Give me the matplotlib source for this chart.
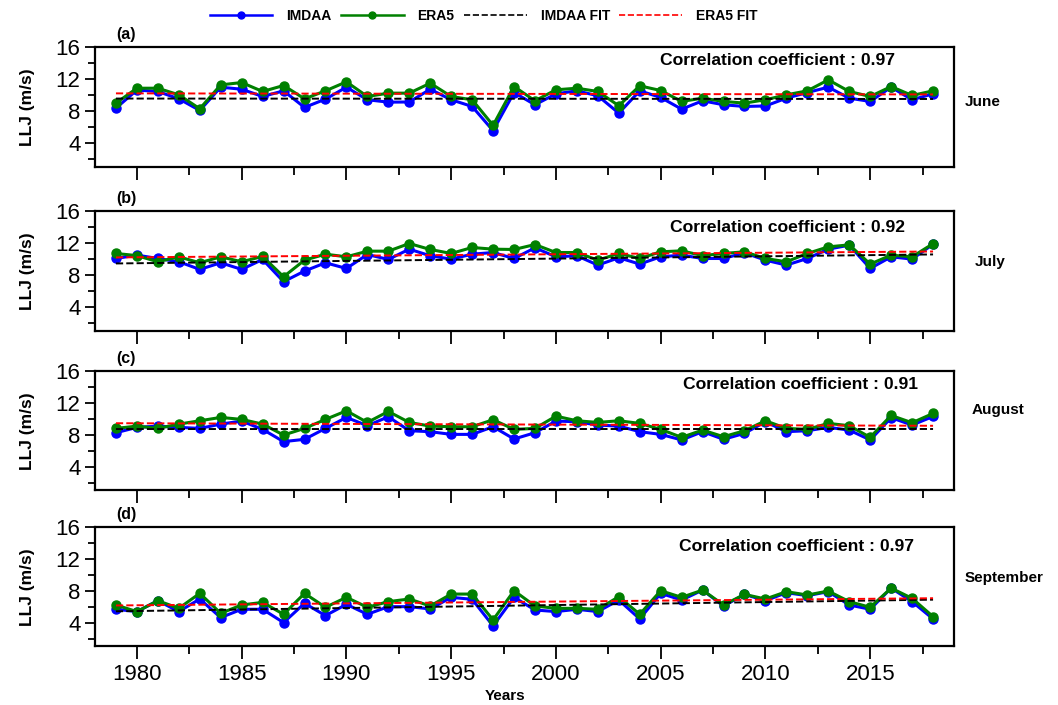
import numpy as np
import matplotlib.pyplot as plt
from matplotlib.ticker import MultipleLocator
from matplotlib.lines import Line2D

plt.rcParams['font.family'] = ['Liberation Sans', 'DejaVu Sans']

years = np.arange(1979, 2019)

# LLJ speed (m/s)
june_imdaa = [8.33, 10.6, 10.42, 9.5, 8.04, 10.96, 10.7, 9.79, 10.5, 8.42,
              9.46, 10.96, 9.38, 9.08, 9.1, 10.7, 9.38, 8.54, 5.5, 10.29,
              8.75, 10.13, 10.5, 9.88, 7.7, 10.5, 9.67, 8.2, 9.25, 8.75,
              8.54, 8.6, 9.58, 10.29, 10.96, 9.58, 9.17, 10.96, 9.38, 10.13]
june_era5 = [8.96, 10.83, 10.83, 10.0, 8.25, 11.25, 11.54, 10.42, 11.17, 9.5,
             10.5, 11.63, 9.79, 10.21, 10.21, 11.46, 9.79, 9.38, 6.17, 11.04,
             9.25, 10.63, 10.83, 10.42, 8.63, 11.13, 10.54, 9.17, 9.58, 9.17,
             8.96, 9.38, 10.0, 10.5, 11.88, 10.42, 9.79, 11.04, 9.92, 10.5]

july_imdaa = [10.04, 10.46, 10.04, 9.63, 8.67, 9.5, 8.67, 9.92, 7.13, 8.46,
              9.5, 8.79, 10.54, 9.92, 11.21, 10.38, 9.96, 10.58, 10.79, 10.04,
              11.38, 10.25, 10.38, 9.21, 10.13, 9.34, 10.25, 10.46, 10.04, 10.04,
              10.75, 9.83, 9.21, 10.04, 11.21, 11.71, 8.79, 10.25, 9.96, 11.83]
july_era5 = [10.67, 10.4, 9.63, 10.25, 9.5, 10.25, 9.63, 10.3, 7.75, 9.83,
             10.58, 10.25, 10.96, 10.96, 11.92, 11.17, 10.67, 11.42, 11.21, 11.17,
             11.79, 10.79, 10.79, 9.83, 10.67, 10.04, 10.88, 11.0, 10.4, 10.67,
             10.88, 10.04, 9.63, 10.67, 11.5, 11.75, 9.34, 10.46, 10.25, 11.9]

aug_imdaa = [8.25, 8.92, 9.08, 8.92, 8.79, 9.33, 9.71, 8.67, 7.13, 7.42,
             8.79, 10.17, 9.13, 10.25, 8.5, 8.38, 8.04, 8.04, 9.0, 7.46,
             8.25, 9.71, 9.63, 9.21, 9.08, 8.38, 8.04, 7.34, 8.38, 7.42,
             8.17, 9.63, 8.38, 8.5, 8.92, 8.58, 7.34, 10.13, 9.21, 10.29]
aug_era5 = [8.79, 9.08, 8.79, 9.33, 9.75, 10.17, 9.92, 9.33, 7.96, 8.79,
            9.92, 11.0, 9.54, 10.92, 9.54, 9.08, 9.0, 9.0, 9.88, 8.67,
            8.79, 10.33, 9.75, 9.54, 9.75, 9.42, 8.67, 7.67, 8.58, 7.75,
            8.5, 9.75, 8.79, 8.67, 9.42, 9.13, 7.67, 10.42, 9.5, 10.67]

sep_imdaa = [5.67, 5.38, 6.75, 5.38, 6.96, 4.63, 5.67, 5.67, 4.0, 6.42,
             4.88, 6.29, 5.04, 6.0, 6.0, 5.71, 7.17, 6.92, 3.58, 7.17,
             5.58, 5.38, 5.67, 5.38, 6.83, 4.46, 7.67, 6.83, 8.08, 6.08,
             7.54, 6.75, 7.75, 7.38, 7.88, 6.21, 5.67, 8.33, 6.63, 4.46]
sep_era5 = [6.21, 5.38, 6.75, 5.79, 7.67, 5.17, 6.21, 6.54, 5.04, 7.67,
            5.92, 7.17, 5.92, 6.63, 6.96, 6.08, 7.58, 7.58, 4.33, 8.0,
            6.08, 5.79, 5.79, 5.67, 7.25, 5.04, 8.0, 7.17, 8.08, 6.21,
            7.54, 6.96, 7.88, 7.46, 7.96, 6.63, 5.92, 8.33, 7.04, 4.75]

months = ["June", "July", "August", "September"]
letters = ["(a)", "(b)", "(c)", "(d)"]
correlations = [0.97, 0.92, 0.91, 0.97]
imdaa = [june_imdaa, july_imdaa, aug_imdaa, sep_imdaa]
era5 = [june_era5, july_era5, aug_era5, sep_era5]

fig = plt.figure(figsize=(10.58, 7.05), dpi=100)

tops = [0.9333, 0.7007, 0.4738, 0.2525]
height = 0.1695
left, width = 0.0898, 0.8119
# where the month names and the correlation text sit
month_pos = [(0.912, 0.855), (0.921, 0.628), (0.918, 0.418), (0.912, 0.180)]
corr_pos = [(0.931, 0.89), (0.943, 0.858), (0.958, 0.883), (0.954, 0.833)]

for i in range(4):
    ax = fig.add_axes([left, tops[i] - height, width, height])
    yi = np.array(imdaa[i])
    ye = np.array(era5[i])
    ax.plot(years, yi, color="blue", lw=2.2, marker="o", ms=6.5, zorder=3)
    ax.plot(years, ye, color="green", lw=2.2, marker="o", ms=6.5, zorder=4)
    # linear trend lines
    pi = np.polyfit(years, yi, 1)
    pe = np.polyfit(years, ye, 1)
    ax.plot(years, np.polyval(pi, years), color="black", ls="--", lw=1.4, zorder=5)
    ax.plot(years, np.polyval(pe, years), color="red", ls="--", lw=1.4, zorder=5)

    ax.set_xlim(1978, 2019)
    ax.set_ylim(1, 16)
    ax.yaxis.set_major_locator(MultipleLocator(4))
    ax.yaxis.set_minor_locator(MultipleLocator(2))
    ax.xaxis.set_major_locator(MultipleLocator(5))
    ax.xaxis.set_minor_locator(MultipleLocator(2.5))
    ax.tick_params(which="both", direction="out", width=1.3, labelsize=16)
    ax.tick_params(which="major", length=7)
    ax.tick_params(which="minor", length=5)
    ax.tick_params(axis="x", which="minor", length=6)
    ax.tick_params(axis="x", which="major", length=9)
    for s in ax.spines.values():
        s.set_linewidth(1.6)
    if i < 3:
        ax.set_xticklabels([])
    ax.set_ylabel("LLJ (m/s)", fontsize=12.5, fontweight="bold", labelpad=15)
    ax.text(0.025, 1.04, letters[i], transform=ax.transAxes, fontsize=11.5,
            fontweight="bold", ha="left", va="bottom")
    ax.text(corr_pos[i][0], corr_pos[i][1],
            "Correlation coefficient : %.2f" % correlations[i],
            transform=ax.transAxes, fontsize=12.6, fontweight="bold",
            ha="right", va="center")
    fig.text(month_pos[i][0], month_pos[i][1], months[i], fontsize=11,
             fontweight="bold", ha="left", va="center")
    if i == 3:
        ax.set_xlabel("Years", fontsize=11, fontweight="bold")
        ax.xaxis.set_label_coords(0.477, -0.355)

handles = [
    Line2D([], [], color="blue", lw=1.8, marker="o", ms=5),
    Line2D([], [], color="green", lw=1.8, marker="o", ms=5),
    Line2D([], [], color="black", ls="--", lw=1.2),
    Line2D([], [], color="red", ls="--", lw=1.2),
]
fig.legend(handles, ["IMDAA", "ERA5", "IMDAA FIT", "ERA5 FIT"], loc="center",
           bbox_to_anchor=(0.457, 0.978), ncol=4, frameon=False, handlelength=4.5,
           columnspacing=0.7, handletextpad=1.0,
           prop={"weight": "bold", "size": 10})

fig.savefig("out.png", dpi=100)
